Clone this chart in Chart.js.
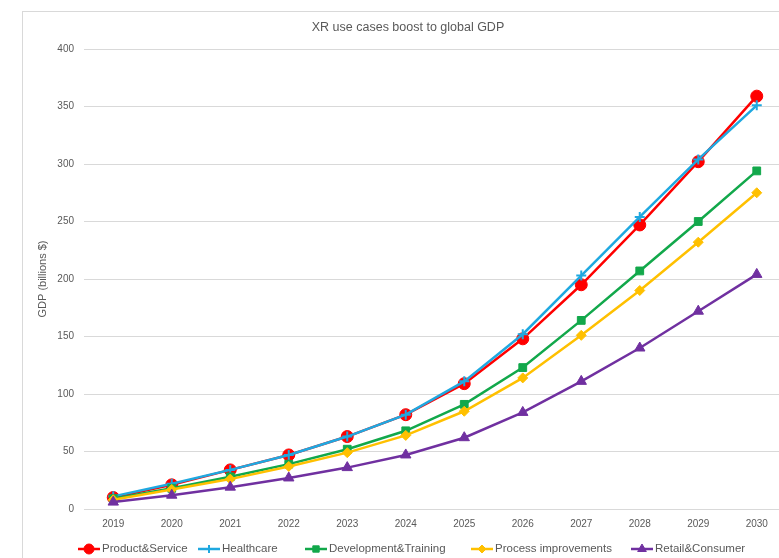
<!DOCTYPE html>
<html>
<head>
<meta charset="utf-8">
<script src="https://cdn.jsdelivr.net/npm/chart.js@4"></script>
<style>
  html, body { margin: 0; padding: 0; background: #fff; overflow: hidden; }
  #wrap { position: relative; width: 779px; height: 558px; overflow: hidden; }
  #frame { position: absolute; left: 22px; top: 11px; width: 800px; height: 600px; border: 1px solid #d9d9d9; box-sizing: border-box; }
  canvas { position: absolute; left: 0; top: 0; }
</style>
</head>
<body>
<div id="wrap">
  <div id="frame"></div>
  <canvas id="chart" width="810" height="558"></canvas>
</div>
<script>
// Dados
const years = ['2019', '2020', '2021', '2022', '2023', '2024', '2025', '2026', '2027', '2028', '2029', '2030'];
const productService = [10, 21, 34, 47, 63, 82, 109, 148, 195, 247, 302, 359];
const healthcare = [11, 22, 34, 47, 63, 82, 111, 152, 203, 254, 304, 351];
const developmentTraining = [9, 18, 28, 39, 52, 68, 91, 123, 164, 207, 250, 294];
const processImprovements = [8, 17, 26, 37, 49, 64, 85, 114, 151, 190, 232, 275];
const retailConsumer = [6, 12, 19, 27, 36, 47, 62, 84, 111, 140, 172, 204];
const yTicks = [0, 50, 100, 150, 200, 250, 300, 350, 400];

const FONT = "'Liberation Sans', 'DejaVu Sans', sans-serif";
const GREY = '#595959';

function serie(label, data, color, style, radius, order) {
    return {
        label: label,
        data: data,
        borderColor: color,
        backgroundColor: color,
        pointBackgroundColor: color,
        pointBorderColor: color,
        pointStyle: style,
        pointRadius: radius,
        pointBorderWidth: style === 'cross' ? 2 : 1,
        borderWidth: 2.5,
        tension: 0,
        order: order
    };
}

// Legenda desenhada à mão: linha + marcador + texto
const legendPlugin = {
    id: 'legendaLinha',
    afterDraw(chart) {
        const ctx = chart.ctx;
        const y = 549;
        const positions = [89, 209, 316, 482, 642];
        ctx.save();
        ctx.font = '11.5px ' + FONT;
        ctx.textBaseline = 'middle';
        chart.data.datasets.forEach((ds, i) => {
            const cx = positions[i];
            ctx.strokeStyle = ds.borderColor;
            ctx.lineWidth = 2.5;
            ctx.beginPath();
            ctx.moveTo(cx - 11, y);
            ctx.lineTo(cx + 11, y);
            ctx.stroke();
            ctx.fillStyle = ds.borderColor;
            ctx.strokeStyle = ds.borderColor;
            ctx.lineWidth = ds.pointBorderWidth;
            Chart.helpers.drawPoint(ctx, {
                pointStyle: ds.pointStyle,
                radius: ds.pointRadius - 1,
                borderWidth: ds.pointBorderWidth,
                rotation: 0
            }, cx, y);
            ctx.fillStyle = GREY;
            ctx.fillText(ds.label, cx + 13, y);
        });
        ctx.restore();
    }
};

const ctx = document.getElementById('chart').getContext('2d');
const chart = new Chart(ctx, {
    type: 'line',
    data: {
        labels: years,
        datasets: [
            serie('Product&Service', productService, '#ff0000', 'circle', 6, 5),
            serie('Healthcare', healthcare, '#1fa8e0', 'cross', 5, 4),
            serie('Development&Training', developmentTraining, '#12a84b', 'rect', 5.5, 3),
            serie('Process improvements', processImprovements, '#ffc000', 'rectRot', 5, 2),
            serie('Retail&Consumer', retailConsumer, '#7030a0', 'triangle', 6, 1)
        ]
    },
    options: {
        responsive: false,
        animation: false,
        layout: { padding: { left: 30, right: 24, top: 12, bottom: 0 } },
        plugins: {
            legend: { display: false },
            tooltip: { enabled: false },
            title: {
                display: true,
                text: 'XR use cases boost to global GDP',
                color: GREY,
                font: { family: FONT, size: 12.5, weight: 'normal' },
                padding: { top: 8, bottom: 14 }
            }
        },
        scales: {
            x: {
                offset: true,
                grid: { display: false },
                border: { display: false },
                ticks: { color: GREY, font: { family: FONT, size: 10 }, padding: 1 },
                afterFit(scale) { scale.height = 49; }
            },
            y: {
                min: 0,
                max: 400,
                afterBuildTicks(scale) { scale.ticks = yTicks.map(v => ({ value: v })); },
                grid: { color: '#d9d9d9', lineWidth: 1, drawTicks: false },
                border: { display: false },
                ticks: { color: GREY, font: { family: FONT, size: 10 }, padding: 10 },
                title: {
                    display: true,
                    text: 'GDP (billions $)',
                    color: GREY,
                    font: { family: FONT, size: 11 },
                    padding: { top: 6, bottom: 0 }
                },
                afterFit(scale) { scale.width = 54; }
            }
        }
    },
    plugins: [legendPlugin]
});
</script>
</body>
</html>
